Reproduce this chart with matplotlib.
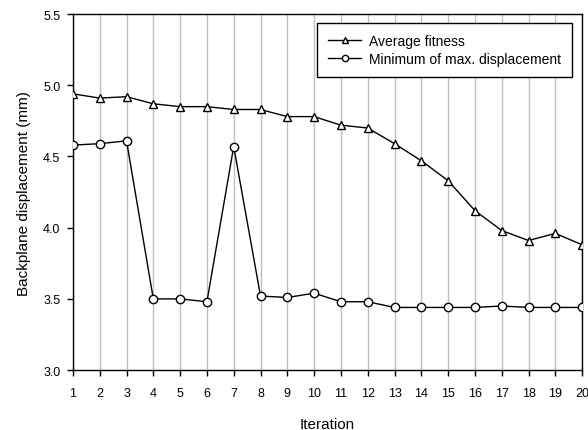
import matplotlib
matplotlib.use("Agg")
import matplotlib.pyplot as plt

iterations = list(range(1, 21))
avg_fitness = [4.94, 4.91, 4.92, 4.87, 4.85, 4.85, 4.83, 4.83, 4.78, 4.78,
               4.72, 4.70, 4.59, 4.47, 4.33, 4.12, 3.98, 3.91, 3.96, 3.88]
min_max_disp = [4.58, 4.59, 4.61, 3.50, 3.50, 3.48, 4.57, 3.52, 3.51, 3.54,
                3.48, 3.48, 3.44, 3.44, 3.44, 3.44, 3.45, 3.44, 3.44, 3.44]

plt.rcParams['font.family'] = ['Liberation Sans', 'DejaVu Sans']

fig = plt.figure(figsize=(5.88, 4.31), dpi=100)
ax = fig.add_axes([0.124, 0.139, 0.866, 0.826])

ax.plot(iterations, avg_fitness, color='black', lw=1, marker='^', ms=6,
        mfc='white', mec='black', mew=1, label='Average fitness', zorder=3)
ax.plot(iterations, min_max_disp, color='black', lw=1, marker='o', ms=6,
        mfc='white', mec='black', mew=1, label='Minimum of max. displacement',
        zorder=3)

ax.set_xlim(1, 20)
ax.set_ylim(3.0, 5.5)
ax.set_xticks(iterations)
ax.set_yticks([3.0, 3.5, 4.0, 4.5, 5.0, 5.5])
ax.set_yticklabels(['3.0', '3.5', '4.0', '4.5', '5.0', '5.5'])
ax.xaxis.grid(True, color='#c0c0c0', lw=1)
ax.set_axisbelow(True)
ax.tick_params(labelsize=9, length=4, width=1, color='black', direction='out')
ax.tick_params(axis='x', pad=8)
ax.tick_params(axis='y', pad=5)
for s in ax.spines.values():
    s.set_linewidth(1)
ax.set_xlabel('Iteration', fontsize=11, labelpad=13)
ax.set_ylabel('Backplane displacement (mm)', fontsize=11, labelpad=9)

leg = ax.legend(loc='upper right', bbox_to_anchor=(0.980, 0.975), borderaxespad=0,
                fontsize=10, fancybox=False, framealpha=1, edgecolor='black',
                handlelength=2.4, handletextpad=0.55, borderpad=0.8,
                labelspacing=0.3, markerscale=0.75)
leg.get_frame().set_linewidth(1)

fig.savefig('out.png', dpi=100)
